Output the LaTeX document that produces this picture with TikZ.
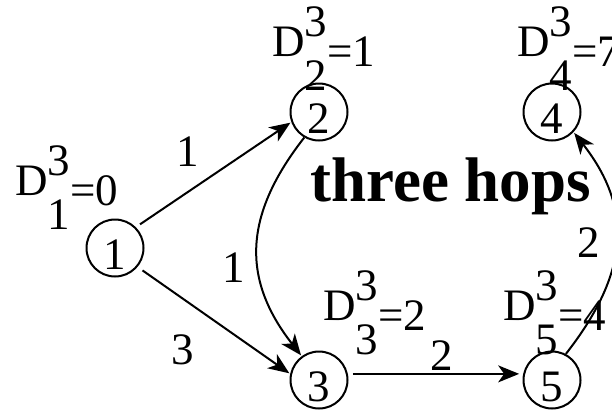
\documentclass[tikz,border=0pt]{standalone}
\usepackage{fontspec}
\setmainfont{Liberation Serif}
\usetikzlibrary{arrows.meta}
\newcommand{\dlab}[2]{D\rlap{\raisebox{20pt}{3}}\raisebox{-34pt}{#1}\raisebox{-10pt}{=#2}}
\newcommand{\nd}[1]{\raisebox{-21pt}[0pt][0pt]{#1}}
\begin{document}
\begin{tikzpicture}[x=1pt,y=1pt,
  font=\fontsize{45}{45}\selectfont,
  vertex/.style={circle,draw,line width=2pt,minimum size=57pt,inner sep=0pt},
  dl/.style={anchor=base west,inner sep=0pt},
  wl/.style={anchor=center,inner sep=0pt},
  arr/.style={line width=2pt,-{Stealth[length=21pt,width=17pt,inset=6pt]}}]
\clip (0,0) rectangle (612,-413);
\node[vertex] (n1) at (115,-248) {\nd{1}};
\node[vertex] (n2) at (319,-112) {\nd{2}};
\node[vertex] (n3) at (319,-380) {\nd{3}};
\node[vertex] (n4) at (552,-112) {\nd{4}};
\node[vertex] (n5) at (552,-380) {\nd{5}};
\node[dl] (d1) at (15,-195) {\dlab{1}{0}};
\node[dl] (d2) at (272,-56) {\dlab{2}{1}};
\node[dl] (d3) at (323,-320) {\dlab{3}{2}};
\node[dl] (d4) at (517,-56) {\dlab{4}{7}};
\node[dl] (d5) at (503,-320) {\dlab{5}{4}};
\node[dl,font=\fontsize{63}{63}\selectfont\bfseries] (hops) at (310,-201) {three hops};
\draw[arr,shorten <=5pt,shorten >=1pt] (n1.45) -- (n2.200);
\draw[arr,shorten <=6pt,shorten >=1pt] (n1.-40) -- (n3.168);
\draw[arr,shorten >=1pt] (n2.240) to[out=232,in=128,looseness=1.15] (n3.126);
\draw[arr,shorten <=5pt,shorten >=4pt] (n3.12) -- (n5.168);
\draw[arr,shorten >=1pt] (n5.62) to[out=52,in=-52,looseness=1.15] (n4.-43);
\node[wl] (w12) at (188,-152) {1};
\node[wl] (w13) at (183,-350) {3};
\node[wl] (w23) at (234,-268) {1};
\node[wl] (w35) at (442,-356) {2};
\node[wl] (w54) at (589,-243) {2};
\end{tikzpicture}
\end{document}
